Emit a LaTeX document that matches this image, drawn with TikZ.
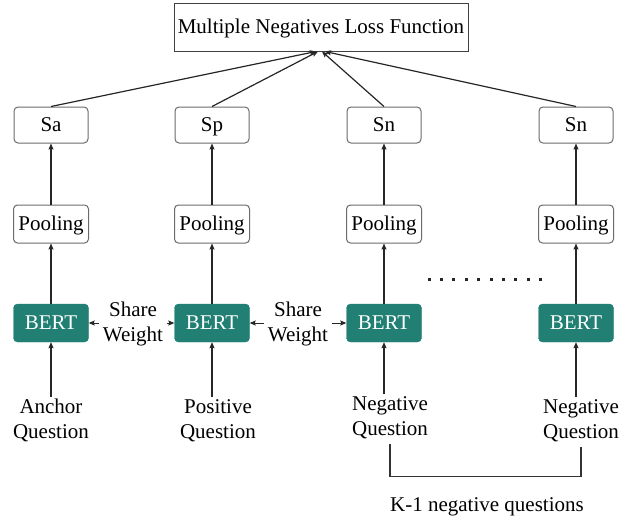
\documentclass[tikz,border=0pt]{standalone}
\usepackage{fontspec}
\setmainfont{Liberation Serif}
\usetikzlibrary{arrows.meta}
\definecolor{bertfill}{HTML}{217F73}
\definecolor{boxline}{HTML}{6B6B6B}
\begin{document}
\begin{tikzpicture}[x=1pt,y=-1pt,
  font=\fontsize{21}{25}\selectfont,
  every node/.style={inner sep=0pt},
  tip/.style={-{Stealth[length=6pt,width=5pt,inset=1pt]}},
  conn/.style={draw=black!85,line width=1.2pt,tip},
  oneline/.style={text height=15pt,text depth=2pt},
  lossbox/.style={oneline,draw=black!75,line width=1pt,minimum width=294pt,minimum height=48pt},
  scorebox/.style={oneline,draw=boxline,line width=1pt,rounded corners=4pt,fill=white,minimum width=74pt,minimum height=36pt},
  poolbox/.style={oneline,draw=boxline,line width=1pt,rounded corners=4pt,fill=white,minimum width=75pt,minimum height=38pt},
  bertbox/.style={oneline,draw=bertfill,fill=bertfill,text=white,rounded corners=4pt,minimum width=75pt,minimum height=38pt},
  qtext/.style={align=center,anchor=north},
  sharetext/.style={align=center,inner xsep=4pt}
]
\useasboundingbox (0,0) rectangle (619,522);

% loss function at the top
\node[lossbox] (loss) at (321,27) {Multiple Negatives Loss Function};

% four encoder columns
\foreach \i/\x in {1/51,2/212,3/384,4/576}{
  \node[bertbox] (bert\i) at (\x,323) {BERT};
  \node[poolbox] (pool\i) at (\x,224) {Pooling};
  \draw[conn] (bert\i.north) -- (pool\i.south);
}
\node[scorebox] (s1) at (51,125) {Sa};
\node[scorebox] (s2) at (212,125) {Sp};
\node[scorebox] (s3) at (384,125) {Sn};
\node[scorebox] (s4) at (576,125) {Sn};
\foreach \i in {1,2,3,4}{
  \draw[conn] (pool\i.north) -- (s\i.south);
}

% scores into the loss
\draw[conn] (s1.north) -- ([xshift=-5pt]loss.south);
\draw[conn] (s2.north) -- ([xshift=-3pt]loss.south);
\draw[conn] (s3.north) -- ([xshift=1pt]loss.south);
\draw[conn] (s4.north) -- ([xshift=4pt]loss.south);

% inputs
\node[qtext] (q1) at (51,399) {Anchor\\Question};
\node[qtext] (q2) at (218,399) {Positive\\Question};
\node[qtext] (q3) at (390,396) {Negative\\Question};
\node[qtext] (q4) at (581,399) {Negative\\Question};
\foreach \i in {1,2,3,4}{
  \draw[conn] (bert\i.south |- q\i.north) ++(0,-2) -- (bert\i.south);
}

% shared weights
\node[sharetext] (sw1) at (133,324) {Share\\Weight};
\node[sharetext] (sw2) at (298,324) {Share\\Weight};
\draw[conn,line width=0.9pt] (sw1.west |- bert1.east) -- (bert1.east);
\draw[conn,line width=0.9pt] (sw1.east |- bert2.west) -- (bert2.west);
\draw[conn,line width=0.9pt] (sw2.west |- bert2.east) -- (bert2.east);
\draw[conn,line width=0.9pt] (sw2.east |- bert3.west) -- (bert3.west);

% ellipsis between the negative columns
\foreach \k in {0,...,9}{
  \fill[black!85] (429+\k*12.4-1.5,279-1.5) rectangle ++(3,3);
}

% bracket over the K-1 negatives
\coordinate (b3) at ([yshift=-5pt]q3.south);
\coordinate (b4) at ([yshift=-5pt]q4.south);
\draw[black!80,line width=1.2pt] (b3) -- ++(0,33) -| (b4);
\node (knote) at (487,507) {K-1 negative questions};
\end{tikzpicture}
\end{document}
